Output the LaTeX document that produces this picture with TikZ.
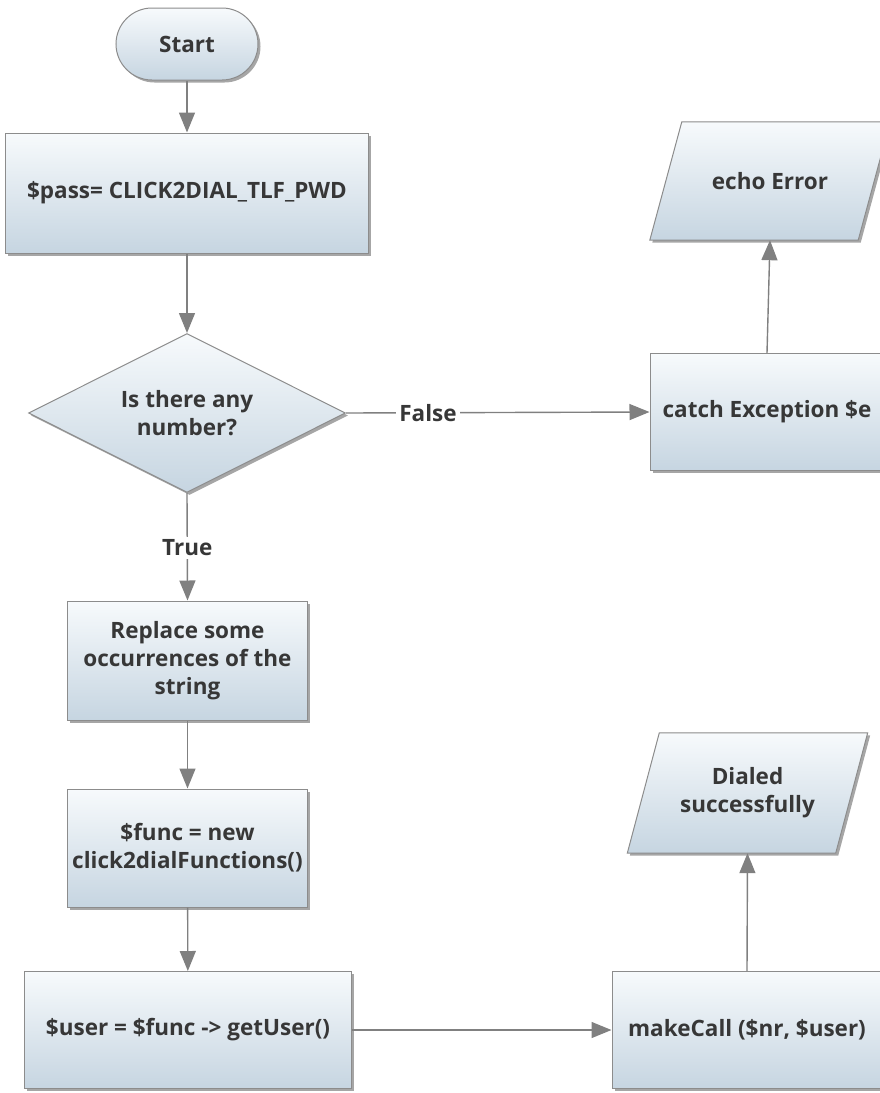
\documentclass[tikz,border=0pt]{standalone}
\usepackage{fontspec}
\setmainfont{Open Sans}
\usetikzlibrary{shapes.geometric,shadows,arrows.meta,backgrounds}
\definecolor{topc}{RGB}{247,250,252}
\definecolor{botc}{RGB}{198,213,225}
\definecolor{edgec}{RGB}{140,140,140}
\definecolor{linec}{RGB}{128,128,128}
\definecolor{txtc}{RGB}{55,55,55}
\tikzset{
  look/.style={draw=edgec, line width=1bp, top color=topc, bottom color=botc,
    drop shadow={shadow xshift=2.5bp, shadow yshift=-2.5bp, fill=black, opacity=0.35}},
  txt/.style={text=txtc, font=\fontsize{22.5bp}{28bp}\selectfont\bfseries, align=center, inner sep=4bp},
  base/.style={look, txt},
  procbox/.style={base, rectangle},
  termbox/.style={base, rectangle, rounded corners=36bp},
  decbox/.style={base, diamond, inner sep=-20bp},
  iobox/.style={txt, rectangle},
  conn/.style={draw=linec, line width=1.4bp, -{Triangle[length=20bp,width=16bp]}},
  lbl/.style={fill=white, text=txtc, font=\fontsize{22.5bp}{26bp}\selectfont\bfseries, inner sep=3bp}
}
\newcommand{\iofig}[1]{%
  \begin{scope}[on background layer]
  \path[look] ([xshift=-16bp]#1.south west) -- ([xshift=16bp]#1.north west) --
     ([xshift=16bp]#1.north east) -- ([xshift=-16bp]#1.south east) -- cycle;
  \end{scope}}
\begin{document}
\begin{tikzpicture}[x=1bp,y=-1bp]
\useasboundingbox (0,0) rectangle (880,1093);
\clip (0,0) rectangle (880,1093);
\node[termbox, minimum width=142bp, minimum height=72bp] (start) at (187,44) {Start};
\node[procbox, minimum width=362bp, minimum height=120bp] (pass) at (187,193) {\$pass= CLICK2DIAL\_TLF\_PWD};
\node[decbox, minimum width=317bp, minimum height=159bp] (dec) at (187,413) {Is there any\\number?};
\node[procbox, minimum width=234bp, minimum height=117bp] (catch) at (767,412) {catch Exception \$e};
\node[iobox, minimum width=208bp, minimum height=118bp] (echo) at (770,181) {echo Error};
\iofig{echo}
\node[procbox, minimum width=239bp, minimum height=119bp] (repl) at (187.5,660.5) {Replace some\\occurrences of the\\string};
\node[procbox, minimum width=239bp, minimum height=118bp] (func) at (187.5,848) {\$func = new\\click2dialFunctions()};
\node[procbox, minimum width=327bp, minimum height=117bp] (user) at (188,1030) {\$user = \$func -> getUser()};
\node[procbox, minimum width=270bp, minimum height=117bp] (call) at (747,1030) {makeCall (\$nr, \$user)};
\node[iobox, minimum width=208bp, minimum height=120bp] (dial) at (747.5,793) {Dialed\\successfully};
\iofig{dial}
\draw[conn] (start) -- (pass);
\draw[conn] (pass) -- (dec);
\draw[conn] (dec.east) -- node[lbl, pos=0.27] (flbl) {False} (catch.west);
\draw[conn] (dec.south) -- node[lbl, pos=0.51] (tlbl) {True} (repl.north);
\draw[conn] (catch.north) -- (echo.south);
\draw[conn] (repl) -- (func);
\draw[conn] (func) -- (user);
\draw[conn] (user.east) -- (call.west);
\draw[conn] (call.north) -- (dial.south);
\end{tikzpicture}
\end{document}
